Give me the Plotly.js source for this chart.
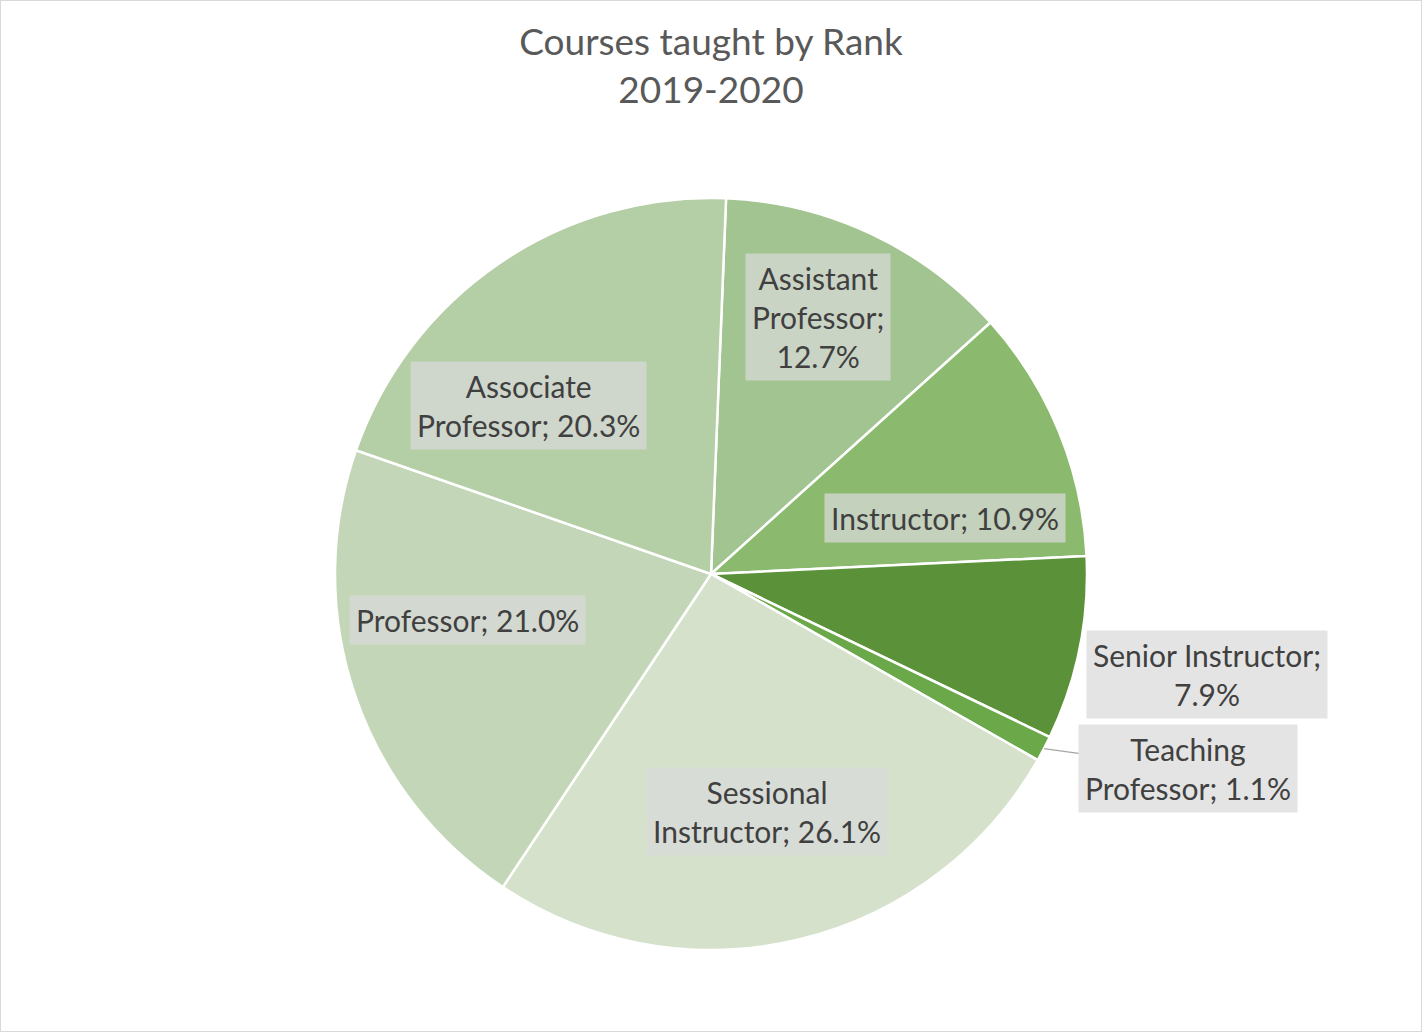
<!DOCTYPE html>
<html><head><meta charset="utf-8">
<script src="https://cdn.plot.ly/plotly-3.0.1.min.js"></script>
<style>html,body{margin:0;padding:0;background:#fff}#chart{width:1422px;height:1032px}</style>
</head><body><div id="chart"></div>
<script>
// ---- data ----
const categories = ["Assistant Professor", "Instructor", "Senior Instructor", "Teaching Professor", "Sessional Instructor", "Professor", "Associate Professor"];
const shares = [12.7, 10.9, 7.9, 1.1, 26.1, 21.0, 20.3];
const labelTexts = ["Assistant<br>Professor;<br>12.7%", "Instructor; 10.9%", "Senior Instructor;<br>7.9%", "Teaching<br>Professor; 1.1%", "Sessional<br>Instructor; 26.1%", "Professor; 21.0%", "Associate<br>Professor; 20.3%"];

// ---- style ----
const colors = ["#a1c490", "#8bba6f", "#5b9239", "#6aa84a", "#d5e1cb", "#c3d7b8", "#b4cea5"];
const W = 1422, H = 1032;
const CX = 711, CY = 574, R = 376;
const ROT = 2.3;
const labelRadius = [0.74, 0.64, 1.345, 1.37, 0.65, 0.66, 0.66];
const labelAngleNudge = [-2.5, 9, 0, -5.5, 0, 8, -13];
const leader = [false, false, false, true, false, false, false];

const total = shares.reduce((a, b) => a + b, 0);
const annotations = [];
let cum = 0;
shares.forEach((v, i) => {
  const mid = ROT + (cum + v / 2) / total * 360;
  cum += v;
  const a = (mid + labelAngleNudge[i]) * Math.PI / 180;
  const px = CX + labelRadius[i] * R * Math.sin(a);
  const py = CY - labelRadius[i] * R * Math.cos(a);
  const ann = {
    text: labelTexts[i], xref: 'paper', yref: 'paper',
    xanchor: 'center', yanchor: 'middle',
    font: {family: 'Lato, sans-serif', size: 30, color: '#404040'},
    bgcolor: 'rgba(217,217,217,0.72)', borderpad: 6, align: 'center'
  };
  if (leader[i]) {
    const m = mid * Math.PI / 180;
    const ex = CX + R * Math.sin(m), ey = CY - R * Math.cos(m);
    ann.x = ex / W; ann.y = 1 - ey / H;
    ann.showarrow = true; ann.arrowhead = 0; ann.arrowwidth = 1.2; ann.arrowcolor = '#a6a6a6';
    ann.ax = px - ex; ann.ay = py - ey;
  } else {
    ann.x = px / W; ann.y = 1 - py / H; ann.showarrow = false;
  }
  annotations.push(ann);
});

const trace = {
  type: 'pie', labels: categories, values: shares, sort: false,
  direction: 'clockwise', rotation: ROT,
  marker: {colors: colors, line: {color: '#ffffff', width: 2.5}},
  textinfo: 'none', hoverinfo: 'label+percent',
  domain: {x: [(CX - R) / W, (CX + R) / W], y: [(H - CY - R) / H, (H - CY + R) / H]},
  showlegend: false
};

const layout = {
  width: W, height: H, margin: {l: 0, r: 0, t: 0, b: 0},
  paper_bgcolor: '#ffffff',
  title: {text: 'Courses taught by Rank<br>2019-2020', x: 0.5, xanchor: 'center', y: 1 - 55 / H, yanchor: 'middle',
          font: {family: 'Lato, sans-serif', size: 37, color: '#595959'}},
  annotations: annotations,
  shapes: [{type: 'rect', xref: 'paper', yref: 'paper', x0: 0, x1: 1, y0: 0, y1: 1,
            line: {color: '#d9d9d9', width: 2}}]
};

Plotly.newPlot('chart', [trace], layout, {displayModeBar: false});
</script></body></html>
